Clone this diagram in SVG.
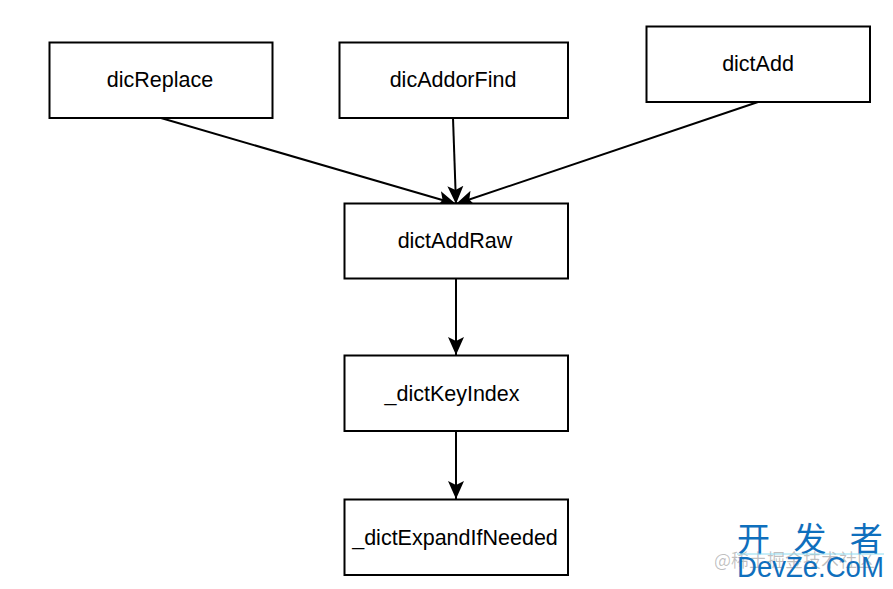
<svg xmlns="http://www.w3.org/2000/svg" width="893" height="589" viewBox="0 0 893 589">
<style>
.box{fill:#fff;stroke:#000;stroke-width:2}
.lbl{font-family:"Liberation Sans",Arial,sans-serif;font-size:21.5px;fill:#000;text-anchor:middle}
.edge{fill:none;stroke:#000;stroke-width:2;marker-end:url(#arr)}
.wm1{font-family:"Noto Sans CJK SC",sans-serif;font-size:33px;word-spacing:16px;fill:#0f6fbd}
.wm2{font-family:"Liberation Sans",sans-serif;font-size:29px;fill:#0f6fbd}
.wm3{font-family:"Noto Sans CJK SC",sans-serif;font-size:18px;fill:#000;fill-opacity:.25}
</style>
<defs>
<marker id="arr" markerUnits="userSpaceOnUse" markerWidth="20" markerHeight="18" refX="18" refY="9" orient="auto">
<path d="M0 1L18 9L0 17L4 9Z" fill="#000"/>
</marker>
</defs>
<rect width="893" height="589" fill="#fff"/>
<g id="connectors">
<line class="edge" x1="161" y1="118" x2="456" y2="204"/>
<line class="edge" x1="453" y1="118" x2="456" y2="204"/>
<line class="edge" x1="758" y1="102" x2="456" y2="204"/>
<line class="edge" x1="456" y1="278" x2="456" y2="355"/>
<line class="edge" x1="456" y1="431" x2="456" y2="499"/>
</g>
<g id="dicReplace"><rect class="box" x="49.5" y="42.5" width="223" height="75.5"/><text class="lbl" x="160" y="87">dicReplace</text></g>
<g id="dicAddorFind"><rect class="box" x="339.5" y="42.5" width="228.5" height="75.5"/><text class="lbl" x="453" y="87">dicAddorFind</text></g>
<g id="dictAdd"><rect class="box" x="646.5" y="26.5" width="223.5" height="75.5"/><text class="lbl" x="758" y="71">dictAdd</text></g>
<g id="dictAddRaw"><rect class="box" x="344.5" y="203.5" width="223.5" height="75"/><text class="lbl" x="455" y="248">dictAddRaw</text></g>
<g id="dictKeyIndex"><rect class="box" x="344.5" y="355.5" width="223.5" height="75.5"/><text class="lbl" x="452" y="401">_dictKeyIndex</text></g>
<g id="dictExpandIfNeeded"><rect class="box" x="344.5" y="499.5" width="223.5" height="75.5"/><text class="lbl" x="455" y="545">_dictExpandIfNeeded</text></g>
<g id="watermark">
<text class="wm3" x="714" y="567">@稀土掘金技术社区</text>
<text class="wm1" x="737" y="551">开 发 者</text>
<line x1="737" y1="554" x2="884" y2="554" stroke="#8fdcf0" stroke-width="1"/>
<text class="wm2" transform="translate(737 577) scale(.95 1)">DevZe.CoM</text>
</g>
</svg>
